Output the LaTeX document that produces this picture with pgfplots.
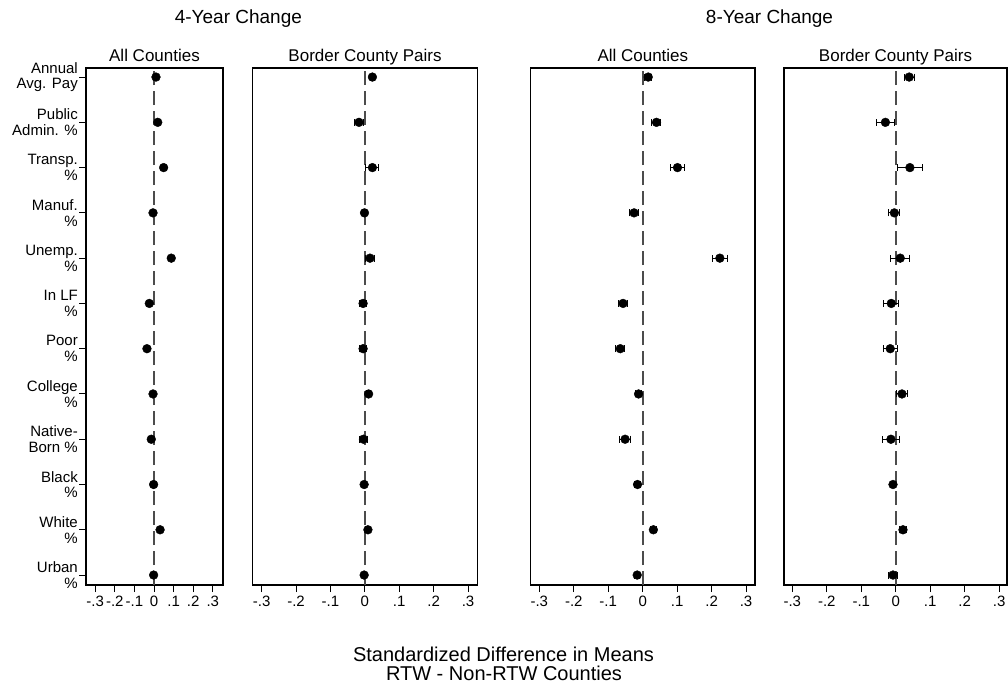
\documentclass[border=0pt]{standalone}
\usepackage{pgfplots}
\pgfplotsset{compat=1.18}
\usepackage{pgfplotstable}
\usepackage{fontspec}
\setmainfont{Liberation Sans}

% 4-year, all counties
\pgfplotstableread{
y x e
12 0.010 0.004
11 0.019 0.004
10 0.049 0.005
9 -0.005 0.004
8 0.088 0.005
7 -0.024 0.004
6 -0.036 0.004
5 -0.005 0.004
4 -0.014 0.004
3 -0.002 0.004
2 0.031 0.004
1 -0.002 0.004
}\tA
% 4-year, border county pairs
\pgfplotstableread{
y x e
12 0.022 0.006
11 -0.017 0.0125
10 0.022 0.019
9 -0.001 0.005
8 0.015 0.0125
7 -0.005 0.011
6 -0.005 0.011
5 0.011 0.006
4 -0.004 0.012
3 -0.002 0.005
2 0.009 0.006
1 -0.002 0.005
}\tB
% 8-year, all counties
\pgfplotstableread{
y x e
12 0.016 0.011
11 0.040 0.013
10 0.101 0.019
9 -0.025 0.012
8 0.224 0.022
7 -0.057 0.012
6 -0.065 0.0135
5 -0.012 0.009
4 -0.051 0.015
3 -0.015 0.008
2 0.031 0.008
1 -0.016 0.008
}\tC
% 8-year, border county pairs
\pgfplotstableread{
y x e
12 0.039 0.014
11 -0.030 0.025
10 0.041 0.037
9 -0.004 0.016
8 0.013 0.027
7 -0.013 0.022
6 -0.016 0.020
5 0.018 0.016
4 -0.014 0.024
3 -0.008 0.008
2 0.021 0.010
1 -0.008 0.014
}\tD

\pgfplotsset{
  panel/.style={
    scale only axis, height=517pt, ymin=0.78, ymax=12.2,
    anchor=south west, clip=false,
    xtick={-0.3,-0.2,-0.1,0,0.1,0.2,0.3},
    xticklabels={-.3,-.2,-.1,0,.1,.2,.3},
    xtick pos=bottom, ytick pos=left,
    tick align=outside, major tick length=7pt,
    tick style={black, line width=1pt},
    axis line style={black, line width=1.1pt},
    xticklabel style={font=\fontsize{15}{15}\selectfont, inner sep=1pt, yshift=-2.5pt},
  },
  zeroline/.style={black!70, line width=1.8pt, dash pattern=on 14pt off 6pt},
  dots/.style={black, only marks, mark=*, mark size=4.4pt,
    error bars/.cd, x dir=both, x explicit,
    error bar style={line width=1pt, black},
    error mark options={rotate=90, mark size=3.5pt, line width=1pt, black}},
}
\newcommand{\ptitle}[1]{\node[font=\fontsize{17}{17}\selectfont, anchor=base, yshift=6.3pt] at (rel axis cs:0.5,1) {#1};}

\begin{document}
\begin{tikzpicture}
\path[use as bounding box] (0,0) rectangle (1008pt,-689pt);

\begin{axis}[panel, at={(86pt,-585pt)}, width=137pt, xmin=-0.347, xmax=0.352,
  ytick={1,2,3,4,5,6,7,8,9,10,11,12},
  yticklabels={{Urban\\\%},{White\\\%},{Black\\\%},{Native-\\Born \%},{College\\\%},{Poor\\\%},{In LF\\\%},{Unemp.\\\%},{Manuf.\\\%},{Transp.\\\%},{Public\\Admin. \%},{Annual\\Avg. Pay}},
  yticklabel style={align=right, font=\fontsize{15}{15.7}\selectfont, inner xsep=1pt}]
\addplot[zeroline] coordinates {(0,0.78) (0,12.2)};
\addplot[dots] table[x=x, y=y, x error=e]{\tA};
\ptitle{All Counties}
\end{axis}

\begin{axis}[panel, at={(252.7pt,-585pt)}, width=224.6pt, xmin=-0.326, xmax=0.327, ytick=\empty]
\addplot[zeroline] coordinates {(0,0.78) (0,12.2)};
\addplot[dots] table[x=x, y=y, x error=e]{\tB};
\ptitle{Border County Pairs}
\end{axis}

\begin{axis}[panel, at={(530.7pt,-585pt)}, width=224.3pt, xmin=-0.325, xmax=0.326, ytick=\empty]
\addplot[zeroline] coordinates {(0,0.78) (0,12.2)};
\addplot[dots] table[x=x, y=y, x error=e]{\tC};
\ptitle{All Counties}
\end{axis}

\begin{axis}[panel, at={(784pt,-585pt)}, width=223pt, xmin=-0.324, xmax=0.3226, ytick=\empty]
\addplot[zeroline] coordinates {(0,0.78) (0,12.2)};
\addplot[dots] table[x=x, y=y, x error=e]{\tD};
\ptitle{Border County Pairs}
\end{axis}

\node[font=\fontsize{19}{19}\selectfont, anchor=base] at (238.4pt,-23.3pt) {4-Year Change};
\node[font=\fontsize{19}{19}\selectfont, anchor=base] at (769.5pt,-23.3pt) {8-Year Change};
\node[font=\fontsize{20}{20}\selectfont, anchor=base] at (503.5pt,-661.7pt) {Standardized Difference in Means};
\node[font=\fontsize{20}{20}\selectfont, anchor=base] at (504pt,-680pt) {RTW - Non-RTW Counties};
\end{tikzpicture}
\end{document}
